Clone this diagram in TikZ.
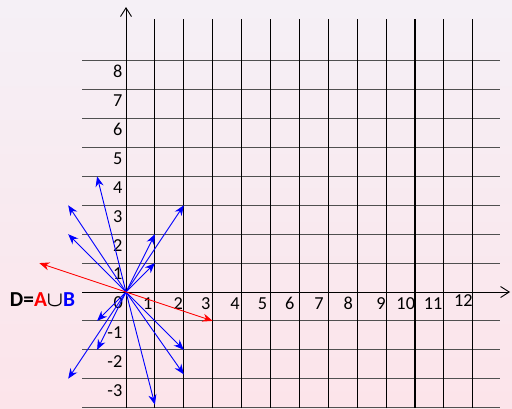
\documentclass[tikz,border=0pt]{standalone}
\usepackage{fontspec}
\setmainfont{Carlito}
\usetikzlibrary{arrows.meta, positioning}
\definecolor{bgtop}{RGB}{245,240,246}
\definecolor{bgbot}{RGB}{252,228,234}
\definecolor{gridgray}{RGB}{80,80,80}

\begin{document}
\begin{tikzpicture}[
		hline/.style={gridgray, line width=1.1pt},
		vline/.style={black, line width=1.1pt},
		axisx/.style={black, line width=0.9pt, -{Straight Barb[length=3mm, width=3.8mm]}},
		vecB/.style={blue, line width=0.9pt, -{Stealth[length=10pt, width=8pt]}},
		vecR/.style={red, line width=0.9pt, -{Stealth[length=10pt, width=8pt]}},
		lab/.style={font=\fontsize{18}{20}\selectfont, inner sep=0pt}
	]
	% background
	\shade[top color=bgtop, bottom color=bgbot] (-4.36,-4.014) rectangle (13.356,10.104);
	\useasboundingbox (-4.36,-4.014) rectangle (13.356,10.104);

	% grid
	\foreach \k in {-4,...,-1,1,2,...,8}
		\draw[hline] (-1.52,\k) -- (12.94,\k);
	\foreach \k in {1,...,12}
		\draw[vline] (\k,-4.014) -- (\k,9.45);

	% axes
	\coordinate (O) at (0,0);
	\coordinate (xend) at (13.29,0);
	\coordinate (yend) at (0,9.86);
	\draw[axisx] (-1.52,0) -- (xend);
	\draw[axisx] (0,-4.014) -- (yend);

	% labels
	\node[lab] (l0) at (-0.27,-0.36) {0};
	\foreach \k in {1,...,8}
		\node[lab, anchor=east] (ly\k) at (-0.12,\k-0.38) {\k};
	\foreach \k in {-1,-2,-3}
		\node[lab, anchor=east] (ly\k) at (-0.12,\k-0.42) {\k};
	\foreach \k/\p in {1/0.75, 2/1.81, 3/2.76, 4/3.77, 5/4.72, 6/5.67, 7/6.68, 8/7.69, 9/8.82, 10/9.68, 11/10.63}
		\node[lab] (lx\k) at (\p,-0.4) {\k};
	\node[lab] (lx12) at (11.67,-0.3) {12};

	\node[lab, font=\fontsize{21}{24}\selectfont\bfseries\boldmath] (D) at (-2.89,-0.25)
		{D=\textcolor{red}{A}$\cup$\textcolor{blue}{B}};

	% vectors of B
	\foreach \x/\y [count=\i] in {-1/4, -2/3, -2/2, 2/3, 1/2, 1/1, -1/-1, -1/-2, -2/-3, 2/-2, 2/-2.85, 1/-3.9}{
		\coordinate (b\i) at (\x,\y);
		\draw[vecB] (O) -- (b\i);
	}
	% vectors of A
	\coordinate (a1) at (-3,1);
	\coordinate (a2) at (3,-1);
	\draw[vecR] (O) -- (a1);
	\draw[vecR] (O) -- (a2);
\end{tikzpicture}
\end{document}
